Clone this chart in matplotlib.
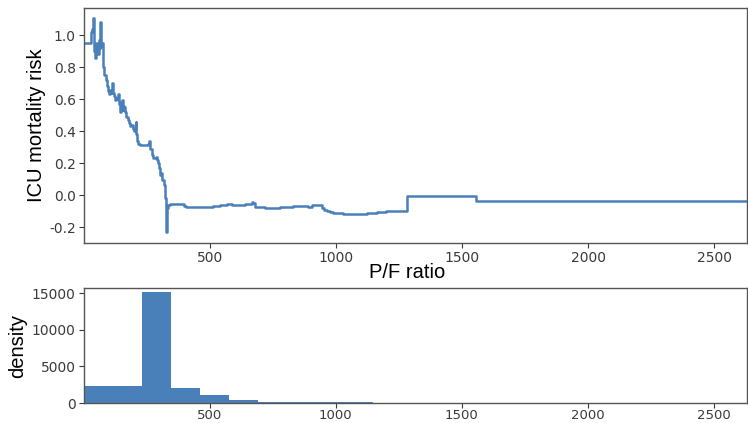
import matplotlib
matplotlib.use("Agg")
import matplotlib.pyplot as plt
import numpy as np

# ---- data ----
pf_ratio = [2, 30, 35, 38, 42, 45, 50, 55, 60, 64, 67, 70, 74, 78, 83, 88, 93, 98, 102, 106,
            110, 113, 116, 120, 124, 128, 133, 137, 140, 144, 148, 151, 155, 158, 162, 166, 170,
            175, 180, 185, 190, 195, 200, 204, 207, 210, 213, 217, 222, 235, 250, 256, 260, 265,
            270, 276, 283, 287, 292, 296, 300, 305, 309, 313, 318, 322, 326, 329, 331, 336, 342,
            360, 382, 400, 408, 440, 480, 514, 540, 567, 590, 620, 640, 666, 672, 679, 720, 778,
            810, 831, 870, 891, 904, 937, 944, 955, 964, 978, 990, 1030, 1069, 1100, 1122, 1162,
            1201, 1283, 1554, 2630]
mortality_risk = [0.95, 1.02, 1.04, 1.11, 0.90, 0.86, 0.95, 0.88, 0.97, 0.92, 1.08, 0.93, 0.95,
                  0.80, 0.75, 0.72, 0.68, 0.65, 0.635, 0.66, 0.64, 0.70, 0.64, 0.62, 0.595, 0.61,
                  0.60, 0.63, 0.57, 0.52, 0.58, 0.595, 0.53, 0.56, 0.55, 0.52, 0.49, 0.47, 0.45,
                  0.43, 0.44, 0.41, 0.40, 0.42, 0.46, 0.38, 0.34, 0.32, 0.31, 0.31, 0.31, 0.32,
                  0.34, 0.29, 0.25, 0.23, 0.23, 0.24, 0.22, 0.20, 0.17, 0.125, 0.14, 0.095, 0.06,
                  -0.02, -0.03, -0.23, -0.08, -0.06, -0.056, -0.058, -0.056, -0.07, -0.077,
                  -0.075, -0.072, -0.07, -0.062, -0.055, -0.06, -0.065, -0.058, -0.045, -0.05,
                  -0.077, -0.078, -0.077, -0.072, -0.069, -0.068, -0.075, -0.0625, -0.065, -0.083,
                  -0.092, -0.10, -0.108, -0.115, -0.118, -0.12, -0.118, -0.115, -0.108, -0.10,
                  -0.008, -0.04, -0.04]

hist_range = (5, 2630)
hist_counts = [2350, 2350, 15100, 2000, 1120, 350, 180, 130, 100, 70, 45,
               0, 0, 0, 0, 0, 0, 0, 0, 0, 0, 0, 0]

x_ticks = [500, 1000, 1500, 2000, 2500]
risk_ticks = [-0.2, 0.0, 0.2, 0.4, 0.6, 0.8, 1.0]
density_ticks = [0, 5000, 10000, 15000]

# ---- style ----
color = "#4a80ba"
tick_color = "#3a3a3a"
spine_color = "#555555"
label_font = ["Liberation Sans", "DejaVu Sans"]

W, H = 748, 423
fig = plt.figure(figsize=(W / 100, H / 100), dpi=100)

def box(l, t, r, b):
    return [l / W, 1 - b / H, (r - l) / W, (b - t) / H]

ax1 = fig.add_axes(box(84, 8, 747, 243))
ax2 = fig.add_axes(box(84, 288, 747, 403))

ax1.plot(pf_ratio, mortality_risk, drawstyle="steps-post", color=color, lw=1.8)
ax1.set_xlim(pf_ratio[0], hist_range[1])
ax1.set_ylim(-0.30, 1.17)
ax1.set_xticks(x_ticks)
ax1.set_yticks(risk_ticks)
ax1.set_yticklabels([f"{v:.1f}" if v >= 0 else f"-{abs(v):.1f}" for v in risk_ticks])
ax1.set_ylabel("ICU mortality risk", fontsize=14.5, family=label_font)
ax1.yaxis.set_label_coords(-0.058, 0.5)
ax1.set_xlabel("P/F ratio", fontsize=14.5, family=label_font)
ax1.xaxis.set_label_coords(0.487, -0.085)

edges = np.linspace(hist_range[0], hist_range[1], len(hist_counts) + 1)
ax2.hist(edges[:-1], bins=edges, weights=hist_counts, color=color)
ax2.set_xlim(pf_ratio[0], hist_range[1])
ax2.set_ylim(0, 15700)
ax2.set_xticks(x_ticks)
ax2.set_yticks(density_ticks)
ax2.set_ylabel("density", fontsize=14.5, family=label_font)
ax2.yaxis.set_label_coords(-0.086, 0.5)

for ax in (ax1, ax2):
    ax.tick_params(colors=tick_color, labelsize=10, length=3.5, width=0.8, pad=2.5)
    for s in ax.spines.values():
        s.set_color(spine_color)
        s.set_linewidth(1.0)
ax2.tick_params(axis="x", pad=1, labelsize=9.5)

fig.savefig("out.png", dpi=100)
